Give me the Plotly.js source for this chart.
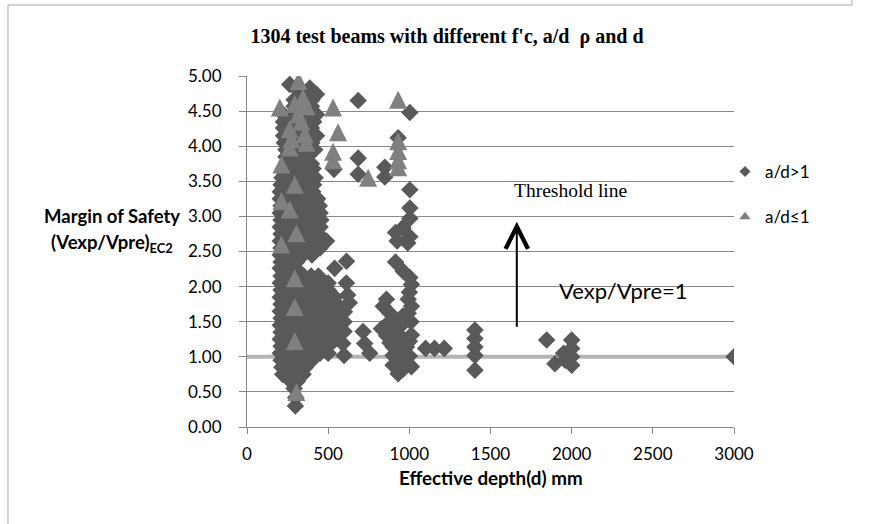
<!DOCTYPE html>
<html><head><meta charset="utf-8">
<script src="https://cdn.plot.ly/plotly-3.0.1.min.js"></script>
<style>html,body{margin:0;padding:0;background:#fff}#chart{width:871px;height:524px}</style>
</head><body><div id="chart"></div>
<script>
// ---- tick labels ----
const xTickVals = [0, 500, 1000, 1500, 2000, 2500, 3000];
const xTickText = ['0', '500', '1000', '1500', '2000', '2500', '3000'];
const yTickVals = [0, 0.5, 1, 1.5, 2, 2.5, 3, 3.5, 4, 4.5, 5];
const yTickText = ['0.00','0.50','1.00','1.50','2.00','2.50','3.00','3.50','4.00','4.50','5.00'];

// ---- threshold line Vexp/Vpre = 1 ----
const lineX = [0, 3000];
const lineY = [1, 1];

// ---- a/d > 1 (diamonds) ----
const upperX = [263, 300, 387, 350, 428, 290, 340, 400, 290, 345, 397, 225, 280, 330, 428, 225, 275, 325, 380, 410, 225, 300, 397, 225, 320, 428, 230, 300, 400, 240, 320, 417, 240, 300, 366, 260, 330, 397, 407, 220, 280, 340, 215, 265, 320, 370, 420, 210, 260, 310, 360, 410];
const upperY = [4.88, 4.83, 4.83, 4.74, 4.74, 4.66, 4.66, 4.66, 4.57, 4.57, 4.57, 4.45, 4.45, 4.45, 4.45, 4.35, 4.35, 4.35, 4.35, 4.35, 4.26, 4.26, 4.26, 4.15, 4.15, 4.15, 4.05, 4.05, 4.05, 3.95, 3.95, 3.95, 3.85, 3.85, 3.85, 3.75, 3.75, 3.75, 3.68, 3.65, 3.65, 3.65, 3.55, 3.55, 3.55, 3.55, 3.55, 3.45, 3.45, 3.45, 3.45, 3.45];

const blobX = [205,255,305,355,405, 205,250,300,350,400,435, 210,260,310,360,410,445, 205,255,305,355,405,450, 210,260,310,360,410,455, 205,255,305,355,405,450, 210,260,310,360,410,440, 205,255,305,355,405,450,490, 210,260,310,360,410,450, 205,255,300,345,400, 210,260,305, 205,255,300,540, 210,260,305,350,395,440, 205,255,305,355,405,455,500, 210,260,310,360,410,460,500, 205,255,305,355,405,445,490,540, 210,260,310,360,410,460,510,555, 205,255,305,355,405,455,505,555, 210,260,310,360,410,460,510,555, 205,255,305,355,405,455,505,550, 210,260,310,360,410,460,510,550, 205,255,305,355,405,455,500,545, 210,260,310,360,410,455,500, 205,255,305,355,405,450,500, 210,260,310,355,400, 215,265,315,360, 220,270,320,345, 270,310, 290, 300, 298];
const blobY = [3.35,3.35,3.35,3.35,3.35, 3.25,3.25,3.25,3.25,3.25,3.25, 3.15,3.15,3.15,3.15,3.15,3.15, 3.05,3.05,3.05,3.05,3.05,3.05, 2.95,2.95,2.95,2.95,2.95,2.95, 2.85,2.85,2.85,2.85,2.85,2.85, 2.75,2.75,2.75,2.75,2.75,2.75, 2.65,2.65,2.65,2.65,2.65,2.65,2.65, 2.55,2.55,2.55,2.55,2.55,2.55, 2.45,2.45,2.45,2.45,2.45, 2.35,2.35,2.35, 2.26,2.26,2.26,2.26, 2.15,2.15,2.15,2.15,2.15,2.15, 2.05,2.05,2.05,2.05,2.05,2.05,2.05, 1.95,1.95,1.95,1.95,1.95,1.95,1.95, 1.85,1.85,1.85,1.85,1.85,1.85,1.85,1.85, 1.75,1.75,1.75,1.75,1.75,1.75,1.75,1.75, 1.65,1.65,1.65,1.65,1.65,1.65,1.65,1.65, 1.55,1.55,1.55,1.55,1.55,1.55,1.55,1.55, 1.45,1.45,1.45,1.45,1.45,1.45,1.45,1.45, 1.35,1.35,1.35,1.35,1.35,1.35,1.35,1.35, 1.25,1.25,1.25,1.25,1.25,1.25,1.25,1.25, 1.15,1.15,1.15,1.15,1.15,1.15,1.15, 1.05,1.05,1.05,1.05,1.05,1.05,1.05, 0.95,0.95,0.95,0.95,0.95, 0.85,0.85,0.85,0.85, 0.75,0.75,0.75,0.75, 0.65,0.65, 0.55, 0.42, 0.30];

const midX = [613, 612, 620, 630, 600, 598, 598, 590, 598, 715, 725, 756, 536, 685, 685, 685];
const midY = [2.36, 2.05, 1.88, 1.77, 1.64, 1.50, 1.36, 1.19, 1.02, 1.36, 1.19, 1.05, 3.67, 4.65, 3.83, 3.60];

const colX = [1003, 931, 849, 849, 1003, 1003, 1003, 960, 915, 1003, 925, 990, 915, 962, 1003, 1013, 1000, 993, 1013, 859, 839, 880, 993, 960, 911, 1010, 870, 950, 828, 900, 860, 931, 1013, 965, 1000, 880, 900, 982, 940, 1000, 900, 931, 960, 900, 1013, 960, 931];
const colY = [4.48, 4.12, 3.70, 3.56, 3.38, 3.12, 2.97, 2.84, 2.77, 2.71, 2.65, 2.62, 2.35, 2.22, 2.13, 2.03, 1.92, 1.82, 1.72, 1.82, 1.72, 1.62, 1.62, 1.58, 1.52, 1.50, 1.48, 1.45, 1.40, 1.36, 1.30, 1.29, 1.31, 1.25, 1.22, 1.20, 1.14, 1.14, 1.08, 1.01, 1.02, 0.98, 0.92, 0.88, 0.86, 0.82, 0.76];

const farX = [1100, 1155, 1215, 1404, 1404, 1404, 1404, 1404, 1846, 1897, 1950, 1960, 2000, 2000, 2000, 2000, 3000];
const farY = [1.12, 1.12, 1.12, 1.38, 1.26, 1.14, 1.02, 0.81, 1.24, 0.90, 1.05, 0.95, 1.24, 1.12, 1.00, 0.88, 1.00];

// ---- a/d <= 1 (triangles) ----
const triX = [318, 202, 294, 345, 366, 530, 263, 274, 356, 366, 263, 561, 530, 530, 212, 294, 212, 263, 304, 212, 294, 294, 294, 304, 931, 931, 931, 931, 931, 746, 315, 335];
const triY = [4.93, 4.55, 4.60, 4.69, 4.57, 4.55, 4.24, 4.10, 4.17, 4.05, 3.98, 4.20, 3.92, 3.80, 3.74, 3.45, 3.22, 3.10, 2.76, 2.60, 2.12, 1.71, 1.22, 0.50, 4.66, 4.07, 3.93, 3.80, 3.70, 3.55, 4.45, 4.35];

const names = ['a/d>1', 'a/d\u22641'];
const colD = '#595959', colT = '#808080';

const dX = upperX.concat(blobX, midX, colX, farX);
const dY = upperY.concat(blobY, midY, colY, farY);

const F = 'Lato, "Open Sans", sans-serif';

const traces = [
  {x: lineX, y: lineY, mode: 'lines', line: {color: '#b4b4b4', width: 4}, showlegend: false, hoverinfo: 'skip'},
  {x: dX, y: dY, mode: 'markers', name: names[0], showlegend: false,
   marker: {symbol: 'diamond', size: 13.5, color: colD}},
  {x: triX, y: triY, mode: 'markers', name: names[1], showlegend: false,
   marker: {symbol: 'arrow-down', angle: 180, standoff: 9, size: 18, color: colT}},
  {x: [null], y: [null], mode: 'markers', name: names[0], legendgroup: 'a',
   marker: {symbol: 'diamond', size: 8.5, color: colD}},
  {x: [null], y: [null], mode: 'markers', name: names[1], legendgroup: 'b',
   marker: {symbol: 'triangle-up', size: 10, color: colT}}
];

const layout = {
  width: 871, height: 524,
  margin: {l: 247, r: 137, t: 76, b: 97},
  paper_bgcolor: '#fff', plot_bgcolor: '#fff',
  font: {family: F, color: '#000'},
  title: {text: "1304 test beams with different f'c, a/d  \u03c1 and d",
          font: {family: '"Liberation Serif", "Times New Roman", serif', size: 20, weight: 'bold', color: '#000'},
          x: 447/871, xanchor: 'center', xref: 'container', y: 1 - 36/524, yanchor: 'middle', yref: 'container'},
  xaxis: {range: [0, 3000], tickvals: xTickVals, ticktext: xTickText, showgrid: false, zeroline: false,
          showline: true, linecolor: '#888', linewidth: 1, ticks: 'outside', ticklen: 6, tickcolor: '#888',
          tickfont: {family: F, size: 17, color: '#000'}, ticklabelstandoff: 6},
  yaxis: {range: [0, 5], tickvals: yTickVals, ticktext: yTickText, showgrid: true, gridcolor: '#888', gridwidth: 1,
          zeroline: false, showline: true, linecolor: '#888', linewidth: 1, ticks: 'outside', ticklen: 7, tickcolor: '#888',
          tickfont: {family: F, size: 17, color: '#000'}, ticklabelstandoff: 14},
  showlegend: true,
  legend: {x: 0.9815, xanchor: 'left', y: 0.7778, yanchor: 'top', font: {family: F, size: 17, color: '#000'},
           bgcolor: 'rgba(0,0,0,0)', traceorder: 'grouped', tracegroupgap: 20, itemwidth: 30},
  annotations: [
    {xref: 'paper', yref: 'paper', x: -0.2778, y: 0.601, text: '<b>Margin of Safety</b>', showarrow: false,
     xanchor: 'center', yanchor: 'middle', font: {family: F, size: 18.5, color: '#000'}},
    {xref: 'paper', yref: 'paper', x: -0.2778, y: 0.524, text: '<b>(Vexp/Vpre)<sub>EC2</sub></b>', showarrow: false,
     xanchor: 'center', yanchor: 'middle', font: {family: F, size: 18.5, color: '#000'}},
    {xref: 'paper', yref: 'paper', x: 0.5, y: (427-477)/351, text: '<b>Effective depth(d) mm</b>', showarrow: false,
     xanchor: 'center', yanchor: 'middle', font: {family: F, size: 18.8, color: '#000'}},
    {xref: 'x', yref: 'y', x: 1631, y: 3.376, text: 'Threshold line', showarrow: false, xanchor: 'left', yanchor: 'middle',
     font: {family: '"Liberation Serif", "Times New Roman", serif', size: 19.5, color: '#000'}},
    {xref: 'x', yref: 'y', x: 1910, y: 1.95, text: 'Vexp/Vpre=1', showarrow: false, xanchor: 'left', yanchor: 'middle',
     font: {family: F, size: 22, color: '#000'}},
    {xref: 'x', yref: 'y', x: 1662, y: 2.925, axref: 'x', ayref: 'y', ax: 1662, ay: 1.406, text: '', showarrow: true,
     arrowhead: 5, arrowsize: 2.2, arrowwidth: 2, arrowcolor: '#000', standoff: 0}
  ],
  shapes: [
    {type: 'line', xref: 'paper', yref: 'paper', x0: -0.4908, x1: -0.4908, y0: -0.2764, y1: 1.2023, line: {color: '#a6a6a6', width: 1}},
    {type: 'line', xref: 'paper', yref: 'paper', x0: -0.4908, x1: 1.2423, y0: 1.2023, y1: 1.2023, line: {color: '#a6a6a6', width: 1}},
    {type: 'line', xref: 'paper', yref: 'paper', x0: 1.2423, x1: 1.2423, y0: 1.2023, y1: 1.2165, line: {color: '#a6a6a6', width: 1}}
  ]
};

Plotly.newPlot('chart', traces, layout, {displayModeBar: false, staticPlot: true});
</script></body></html>
